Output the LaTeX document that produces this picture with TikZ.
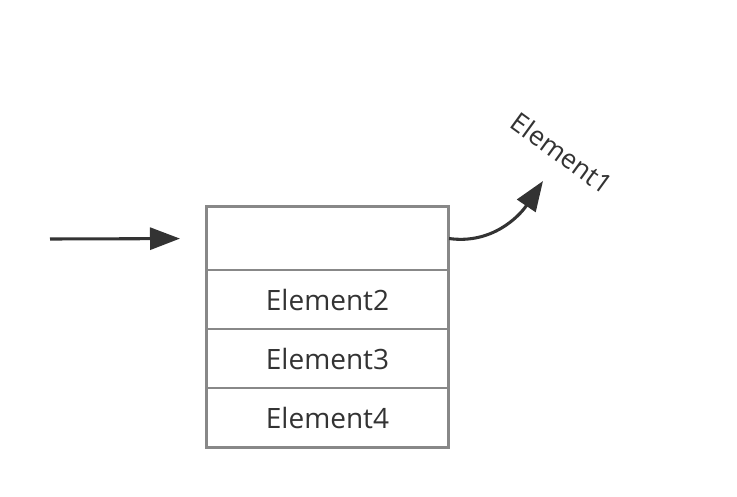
\documentclass[tikz,border=0pt]{standalone}
\usepackage{fontspec}
\setmainfont{Open Sans}
\usetikzlibrary{arrows.meta}
\definecolor{txt}{HTML}{333333}
\definecolor{bord}{HTML}{888888}
\begin{document}
\begin{tikzpicture}[x=0.75pt,y=-0.75pt,
  cell/.style={draw=bord,line width=1.5pt,minimum width=241*0.75pt,inner sep=0pt,
    text=txt,font=\fontsize{21}{24}\selectfont,anchor=north west},
  conn/.style={draw=txt,line width=2.3pt,-{Triangle[length=22.5pt,width=16.5pt]}}]
\useasboundingbox[fill=white] (0,0) rectangle (737,496);
\node[cell,minimum height=63*0.75pt] (c1) at (206,206) {};
\node[cell,minimum height=59*0.75pt] (c2) at (206,269) {Element2};
\node[cell,minimum height=59*0.75pt] (c3) at (206,328) {Element3};
\node[cell,minimum height=59*0.75pt] (c4) at (206,387) {Element4};
\draw[bord,line width=2.2pt] (c1.north west) rectangle (c4.south east);
\coordinate (in) at (50,239);
\coordinate (tip) at (543,181);
\node[text=txt,font=\fontsize{20}{23}\selectfont,rotate=-36,inner sep=0pt] (e1) at (562,153) {Element1};
\draw[conn,shorten >=19.5pt] (in) -- (c1.west);
\draw[conn] (c1.east) to[out=-8,in=236] (tip);
\end{tikzpicture}
\end{document}
